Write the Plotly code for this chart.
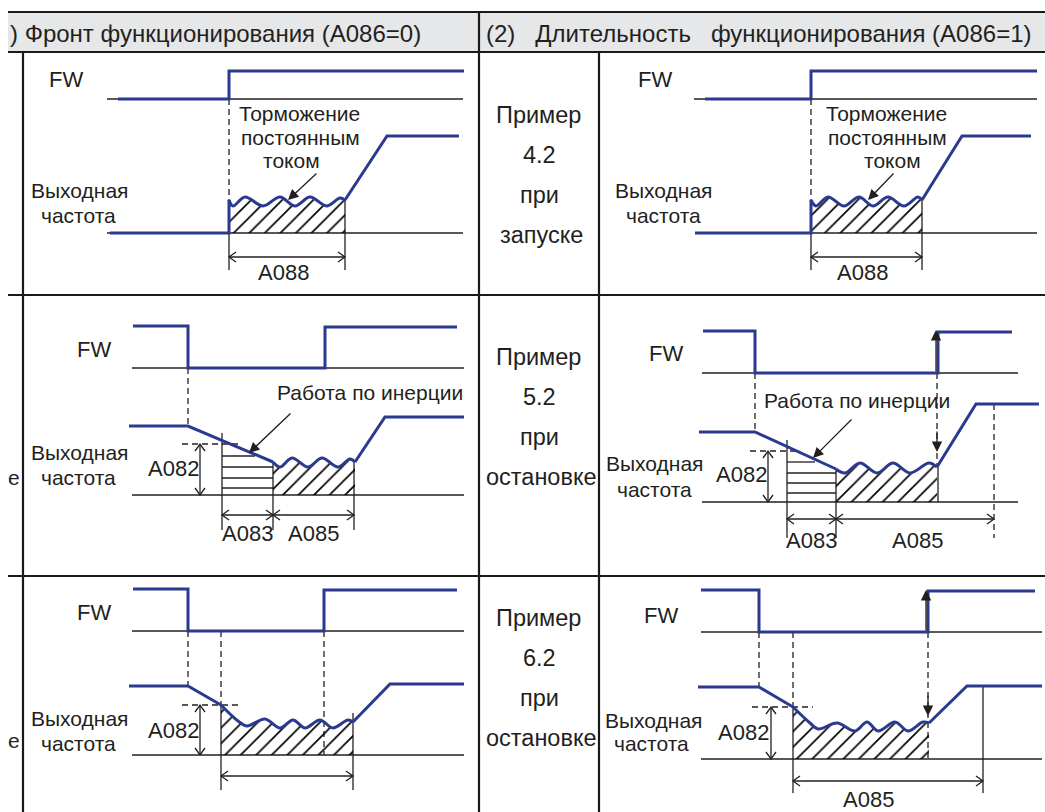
import plotly.graph_objects as go

W, H = 1045, 812
BLUE = '#2b3990'
INK = '#231f20'
FONT = 'Liberation Sans, Arial, sans-serif'

# ---------------- waveform key points (pixel units) -------------
# Row 1 - start, left (A086=0)
R1L_FW_X = [118, 229, 229, 464];            R1L_FW_Y = [99, 99, 71, 71]
R1L_PRE_X = [110, 229, 229];                R1L_PRE_Y = [233, 233, 200]
R1L_WAVE_X = [229, 233, 245, 263, 280, 295, 310, 327, 340, 345]
R1L_WAVE_Y = [200, 206, 197, 206, 197, 206, 197, 206, 198, 200]
R1L_POST_X = [345, 387, 459];               R1L_POST_Y = [200, 136, 136]
# Row 1 - start, right (A086=1)
R1R_FW_X = [705, 811, 811, 1037];           R1R_FW_Y = [99, 99, 71, 71]
R1R_PRE_X = [695, 811, 811];                R1R_PRE_Y = [233, 233, 200]
R1R_WAVE_X = [811, 816, 828, 844, 859, 873, 888, 904, 918, 922]
R1R_WAVE_Y = [200, 206, 197, 206, 197, 206, 197, 206, 197, 200]
R1R_POST_X = [922, 962, 1031];              R1R_POST_Y = [200, 136, 136]
# Row 2 - stop, left
R2L_FW_X = [133, 188, 188, 325, 325, 457];  R2L_FW_Y = [326, 326, 368, 368, 327, 327]
R2L_PRE_X = [129, 188, 273];                R2L_PRE_Y = [426, 426, 462]
R2L_WAVE_X = [273, 280, 292, 308, 322, 338, 350, 355]
R2L_WAVE_Y = [462, 467, 458, 467, 458, 467, 459, 462]
R2L_POST_X = [355, 385, 464];               R2L_POST_Y = [462, 417, 417]
# Row 2 - stop, right
R2R_FW_X = [703, 755, 755, 938, 938, 1012]; R2R_FW_Y = [331, 331, 373, 373, 332, 332]
R2R_PRE_X = [699, 755, 836];                R2R_PRE_Y = [432, 432, 469]
R2R_WAVE_X = [836, 845, 860, 877, 893, 910, 929, 937]
R2R_WAVE_Y = [469, 473, 463, 473, 463, 473, 463, 467]
R2R_POST_X = [937, 976, 1039];              R2R_POST_Y = [467, 404, 404]
# Row 3 - stop, left
R3L_FW_X = [133, 188, 188, 324, 324, 457];  R3L_FW_Y = [589, 589, 631, 631, 590, 590]
R3L_PRE_X = [129, 188, 221];                R3L_PRE_Y = [686, 686, 705]
R3L_WAVE_X = [221, 238, 247, 265, 280, 293, 305, 320, 333, 348, 353]
R3L_WAVE_Y = [705, 721, 726, 719, 728, 720, 728, 720, 728, 720, 722]
R3L_POST_X = [353, 390, 464];               R3L_POST_Y = [722, 684, 684]
# Row 3 - stop, right
R3R_FW_X = [701, 759, 759, 928, 928, 1035]; R3R_FW_Y = [590, 590, 632, 632, 591, 591]
R3R_PRE_X = [698, 759, 793];                R3R_PRE_Y = [687, 687, 707]
R3R_WAVE_X = [793, 810, 818, 837, 855, 867, 878, 895, 908, 923, 929]
R3R_WAVE_Y = [707, 723, 729, 723, 731, 722, 731, 722, 731, 722, 723]
R3R_POST_X = [929, 967, 1042];              R3R_POST_Y = [723, 686, 686]

HEADER_LEFT = ') Фронт функционирования (A086=0)'
HEADER_RIGHT = '(2)\u00a0\u00a0\u00a0Длительность\u00a0\u00a0\u00a0функционирования (A086=1)'
EXAMPLES = [('Пример', '4.2', 'при', 'запуске'),
            ('Пример', '5.2', 'при', 'остановке'),
            ('Пример', '6.2', 'при', 'остановке')]

LBL = 21      # diagram label size
MID = 23.5    # middle column size
HDR = 24      # header size

fig = go.Figure()


def blue(xs, ys, shape='linear'):
    fig.add_trace(go.Scatter(x=xs, y=ys, mode='lines',
                             line=dict(color=BLUE, width=3, shape=shape),
                             hoverinfo='skip', showlegend=False))


def hatch(xs, ys, base):
    fig.add_trace(go.Scatter(x=[xs[0], xs[-1]], y=[base, base], mode='lines',
                             line=dict(width=0, color='rgba(0,0,0,0)'),
                             hoverinfo='skip', showlegend=False))
    fig.add_trace(go.Scatter(x=xs, y=ys, mode='lines',
                             line=dict(width=0, shape='spline', color='rgba(0,0,0,0)'),
                             fill='tonexty', fillcolor='rgba(0,0,0,0)',
                             fillpattern=dict(shape='/', fgcolor='#000000', fgopacity=1,
                                              bgcolor='rgba(0,0,0,0)',
                                              size=11, solidity=0.15),
                             hoverinfo='skip', showlegend=False))


def seg(x0, y0, x1, y1, width=1.3, dash=None, layer='below', color=INK):
    fig.add_shape(type='line', x0=x0, y0=y0, x1=x1, y1=y1, xref='x', yref='y',
                  line=dict(color=color, width=width, dash=dash), layer=layer)


def dashed(x0, y0, x1, y1):
    seg(x0, y0, x1, y1, dash='6px,4px')


def path(p, width=1.3):
    fig.add_shape(type='path', path=p, xref='x', yref='y',
                  line=dict(color=INK, width=width), layer='below')


def hdim(x0, x1, y, a=7, b=5):
    seg(x0, y, x1, y)
    path(f'M{x0 + a},{y - b} L{x0},{y} L{x0 + a},{y + b}')
    path(f'M{x1 - a},{y - b} L{x1},{y} L{x1 - a},{y + b}')


def vdim(x, y0, y1, a=7, b=5):
    seg(x, y0, x, y1)
    path(f'M{x - b},{y0 + a} L{x},{y0} L{x + b},{y0 + a}')
    path(f'M{x - b},{y1 - a} L{x},{y1} L{x + b},{y1 - a}')


def arrow(xt, yt, xh, yh, size=1.6):
    fig.add_annotation(x=xh, y=yh, ax=xt, ay=yt, xref='x', yref='y', axref='x', ayref='y',
                       showarrow=True, arrowhead=2, arrowsize=size, arrowwidth=1.3,
                       arrowcolor=INK, text='')


def text(x, y, s, size=LBL, anchor='center'):
    fig.add_annotation(x=x, y=y, xref='x', yref='y', text=s, showarrow=False,
                       xanchor=anchor, yanchor='middle',
                       font=dict(family=FONT, size=size, color=INK))


def signal(fx, fy, px, py, wx, wy, qx, qy, base):
    hatch(wx, wy, base)
    blue(fx, fy)
    blue(px, py)
    blue(wx, wy, 'spline')
    blue(qx, qy)


# ---------------- table ----------------
fig.add_shape(type='rect', x0=8, x1=W, y0=12, y1=52, xref='x', yref='y',
              fillcolor='#e6e7e8', line=dict(width=0), layer='below')
for yy in (12, 52, 295, 576):
    seg(8, yy, W, yy, width=2.2, layer='above', color='#1a1a1a')
seg(23, 52, 23, H, width=2.2, layer='above', color='#1a1a1a')
seg(479, 12, 479, H, width=2.2, layer='above', color='#1a1a1a')
seg(599, 52, 599, H, width=2.2, layer='above', color='#1a1a1a')
text(8, 33, HEADER_LEFT, size=HDR, anchor='left')
text(484, 33, HEADER_RIGHT, size=HDR, anchor='left')

for (w1, w2, w3, w4), yc in zip(EXAMPLES, (115, 357, 618)):
    text(538, yc, w1, size=MID)
    text(539, yc + 40, w2, size=MID)
    text(539, yc + 80, w3, size=MID)
    text(541, yc + 120, w4, size=MID)

text(14, 477, 'е')
text(14, 740, 'е')

# ---------------- row 1 left ----------------
seg(107, 99, 463, 99); seg(107, 233, 463, 233)
dashed(229, 99, 229, 233)
seg(345, 200, 345, 270); seg(229, 233, 229, 270)
hdim(229, 345, 257)
signal(R1L_FW_X, R1L_FW_Y, R1L_PRE_X, R1L_PRE_Y, R1L_WAVE_X, R1L_WAVE_Y,
       R1L_POST_X, R1L_POST_Y, 233)
arrow(318, 172, 288, 200)
text(66, 79, 'FW', size=22); text(79, 190, 'Выходная'); text(78, 215, 'частота')
text(299, 113, 'Торможение'); text(300, 137, 'постоянным'); text(291, 160, 'током')
text(283, 272, 'A088', size=22)

# ---------------- row 1 right ----------------
seg(694, 99, 1037, 99); seg(695, 233, 1037, 233)
dashed(811, 99, 811, 233)
seg(922, 200, 922, 270); seg(811, 233, 811, 270)
hdim(811, 922, 257)
signal(R1R_FW_X, R1R_FW_Y, R1R_PRE_X, R1R_PRE_Y, R1R_WAVE_X, R1R_WAVE_Y,
       R1R_POST_X, R1R_POST_Y, 233)
arrow(895, 172, 868, 200)
text(655, 79, 'FW', size=22); text(663, 190, 'Выходная'); text(663, 215, 'частота')
text(886, 113, 'Торможение'); text(887, 137, 'постоянным'); text(892, 160, 'током')
text(862, 272, 'A088', size=22)

# ---------------- row 2 left ----------------
seg(132, 368, 464, 368); seg(132, 495, 464, 495)
dashed(188, 368, 188, 426)
for yy, xe in ((456, 255), (467, 273), (478, 273), (488, 273)):
    seg(222, yy, xe, yy)
seg(222, 433, 222, 530); seg(273, 462, 273, 530); seg(354, 461, 354, 530)
dashed(182, 444, 240, 444)
vdim(200, 444, 495)
hdim(222, 273, 515); hdim(273, 354, 515)
signal(R2L_FW_X, R2L_FW_Y, R2L_PRE_X, R2L_PRE_Y, R2L_WAVE_X, R2L_WAVE_Y,
       R2L_POST_X, R2L_POST_Y, 495)
arrow(292, 412, 249, 453)
text(94, 349, 'FW', size=22); text(79, 452, 'Выходная'); text(78, 477, 'частота')
text(370, 392, 'Работа по инерции')
text(173, 468, 'A082', size=22); text(247, 533, 'A083', size=22); text(313, 533, 'A085', size=22)

# ---------------- row 2 right ----------------
seg(702, 373, 1018, 373); seg(702, 502, 1018, 502)
dashed(755, 373, 755, 432)
dashed(937, 373, 937, 467)
dashed(994, 404, 994, 538)
for yy, xe in ((462, 815), (473, 836), (483, 836), (493, 836)):
    seg(787, yy, xe, yy)
seg(787, 440, 787, 538); seg(836, 469, 836, 538); seg(938, 467, 938, 502)
dashed(750, 451, 800, 451)
vdim(768, 451, 502)
hdim(787, 836, 519); hdim(836, 994, 519)
signal(R2R_FW_X, R2R_FW_Y, R2R_PRE_X, R2R_PRE_Y, R2R_WAVE_X, R2R_WAVE_Y,
       R2R_POST_X, R2R_POST_Y, 502)
arrow(936, 373, 936, 330)
arrow(937, 430, 937, 452)
arrow(853, 418, 813, 458)
text(666, 353, 'FW', size=22); text(654, 463, 'Выходная'); text(654, 489, 'частота')
text(857, 400, 'Работа по инерции')
text(741, 474, 'A082', size=22); text(811, 540, 'A083', size=22); text(917, 540, 'A085', size=22)

# ---------------- row 3 left ----------------
seg(132, 631, 464, 631); seg(132, 755, 464, 755)
dashed(188, 631, 188, 687); dashed(221, 631, 221, 705); dashed(324, 631, 324, 755)
seg(221, 705, 221, 790); seg(353, 713, 353, 790)
dashed(182, 705, 240, 705)
vdim(200, 705, 755)
hdim(221, 353, 776)
signal(R3L_FW_X, R3L_FW_Y, R3L_PRE_X, R3L_PRE_Y, R3L_WAVE_X, R3L_WAVE_Y,
       R3L_POST_X, R3L_POST_Y, 755)
text(94, 612, 'FW', size=22); text(79, 718, 'Выходная'); text(78, 743, 'частота')
text(173, 730, 'A082', size=22)

# ---------------- row 3 right ----------------
seg(701, 632, 1042, 632); seg(701, 759, 1042, 759)
dashed(759, 632, 759, 687); dashed(793, 632, 793, 707); dashed(928, 632, 928, 759)
seg(793, 707, 793, 793); seg(983, 686, 983, 793)
dashed(752, 707, 813, 707)
vdim(771, 707, 759)
hdim(793, 983, 781)
signal(R3R_FW_X, R3R_FW_Y, R3R_PRE_X, R3R_PRE_Y, R3R_WAVE_X, R3R_WAVE_Y,
       R3R_POST_X, R3R_POST_Y, 759)
arrow(926, 632, 926, 590)
arrow(928, 694, 928, 716)
text(661, 615, 'FW', size=22); text(653, 720, 'Выходная'); text(651, 743, 'частота')
text(743, 732, 'A082', size=22); text(868, 799, 'A085', size=22)

fig.update_layout(width=W, height=H, margin=dict(l=0, r=0, t=0, b=0),
                  paper_bgcolor='white', plot_bgcolor='white', showlegend=False,
                  xaxis=dict(range=[0, W], visible=False, fixedrange=True),
                  yaxis=dict(range=[H, 0], visible=False, fixedrange=True))
fig.write_html('out.html', config={'displayModeBar': False},
               post_script="document.body.style.margin='0px';document.body.style.overflow='hidden';")
